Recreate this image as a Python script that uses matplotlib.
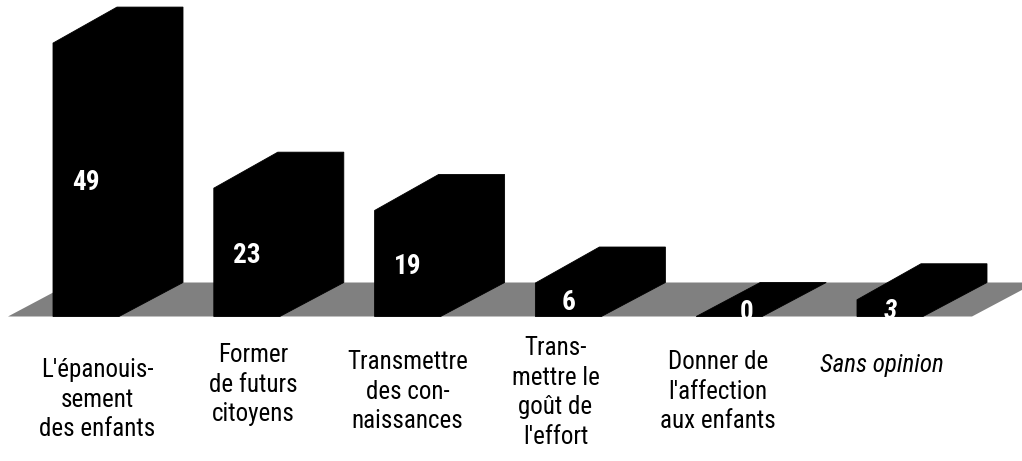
import matplotlib
matplotlib.use('Agg')
import matplotlib.pyplot as plt
from matplotlib.patches import Polygon
from matplotlib import font_manager

# data
categories = ["L'épanouis-\nsement\ndes enfants",
              "Former\nde futurs\ncitoyens",
              "Transmettre\ndes con-\nnaissances",
              "Trans-\nmettre le\ngoût de\nl'effort",
              "Donner de\nl'affection\naux enfants",
              "Sans opinion"]
values = [49, 23, 19, 6, 0, 3]
italic_last = True  # "Sans opinion" and its value are in italics


def pick_font():
    # prefer a narrow face, like the original Arial Narrow
    names = {f.name for f in font_manager.fontManager.ttflist}
    for cand in ['Liberation Sans Narrow', 'Arial Narrow', 'Roboto Condensed',
                 'Asap Condensed', 'Archivo Narrow', 'Barlow Semi Condensed']:
        if cand in names:
            return cand, 1.0
    return 'Liberation Sans', 0.88


font, shrink = pick_font()

W, H = 1022, 461
fig = plt.figure(figsize=(W / 100, H / 100), dpi=100)
ax = fig.add_axes([0, 0, 1, 1])
ax.set_axis_off()

# pixel mapping: category step 160.8 px, first bar centre at 86 px,
# zero line at 316.5 px from top, 5.58 px per unit
step, x_first, y_zero, ppu = 160.8, 86.0, 316.5, 5.58
ax.set_xlim(-x_first / step, (W - x_first) / step)
ax.set_ylim(-(H - y_zero) / ppu, y_zero / ppu)

bar_w = 66 / step
dx = 64 / step
dy_bottom = 34 / ppu
dy_top = 36 / ppu

# grey floor
f0, f1 = (8 - x_first) / step, (972 - x_first) / step
ax.add_patch(Polygon([(f0, 0), (f1, 0), (f1 + dx, dy_bottom), (f0 + dx, dy_bottom)],
                     closed=True, facecolor='#808080', edgecolor='none', zorder=1))

# 3D-looking bars
for i, v in enumerate(values):
    x0, x1 = i - bar_w / 2, i + bar_w / 2
    if v > 0:
        pts = [(x0, 0), (x1, 0), (x1 + dx, dy_bottom), (x1 + dx, v + dy_top),
               (x0 + dx, v + dy_top), (x0, v)]
    else:
        pts = [(x0, 0), (x1, 0), (x1 + dx, dy_bottom), (x0 + dx, dy_bottom)]
    ax.add_patch(Polygon(pts, closed=True, facecolor='black', edgecolor='black',
                         linewidth=0.6, zorder=2))

# value labels
for i, v in enumerate(values):
    lx = i + (0.11 if v == 0 else 0)
    ly = v / 2 if v > 0 else 1.3
    style = 'italic' if (italic_last and i == len(values) - 1) else 'normal'
    ax.text(lx, ly, str(v), color='white', fontsize=19.5 * shrink, fontweight='bold',
            family=font, style=style, ha='center', va='center_baseline', zorder=3)

# category labels (layout offsets)
label_dx = [0.07, 0.04, 0.0, -0.08, -0.07, -0.05]
label_top_px = [358, 343, 350, 336, 350, 353]
for i, lab in enumerate(categories):
    style = 'italic' if (italic_last and i == len(categories) - 1) else 'normal'
    ax.text(i + label_dx[i], (y_zero - label_top_px[i]) / ppu, lab,
            fontsize=18 * shrink, family=font, style=style, color='black',
            ha='center', va='top', multialignment='center', linespacing=1.3)

fig.savefig('out.png', dpi=100, facecolor='white')
